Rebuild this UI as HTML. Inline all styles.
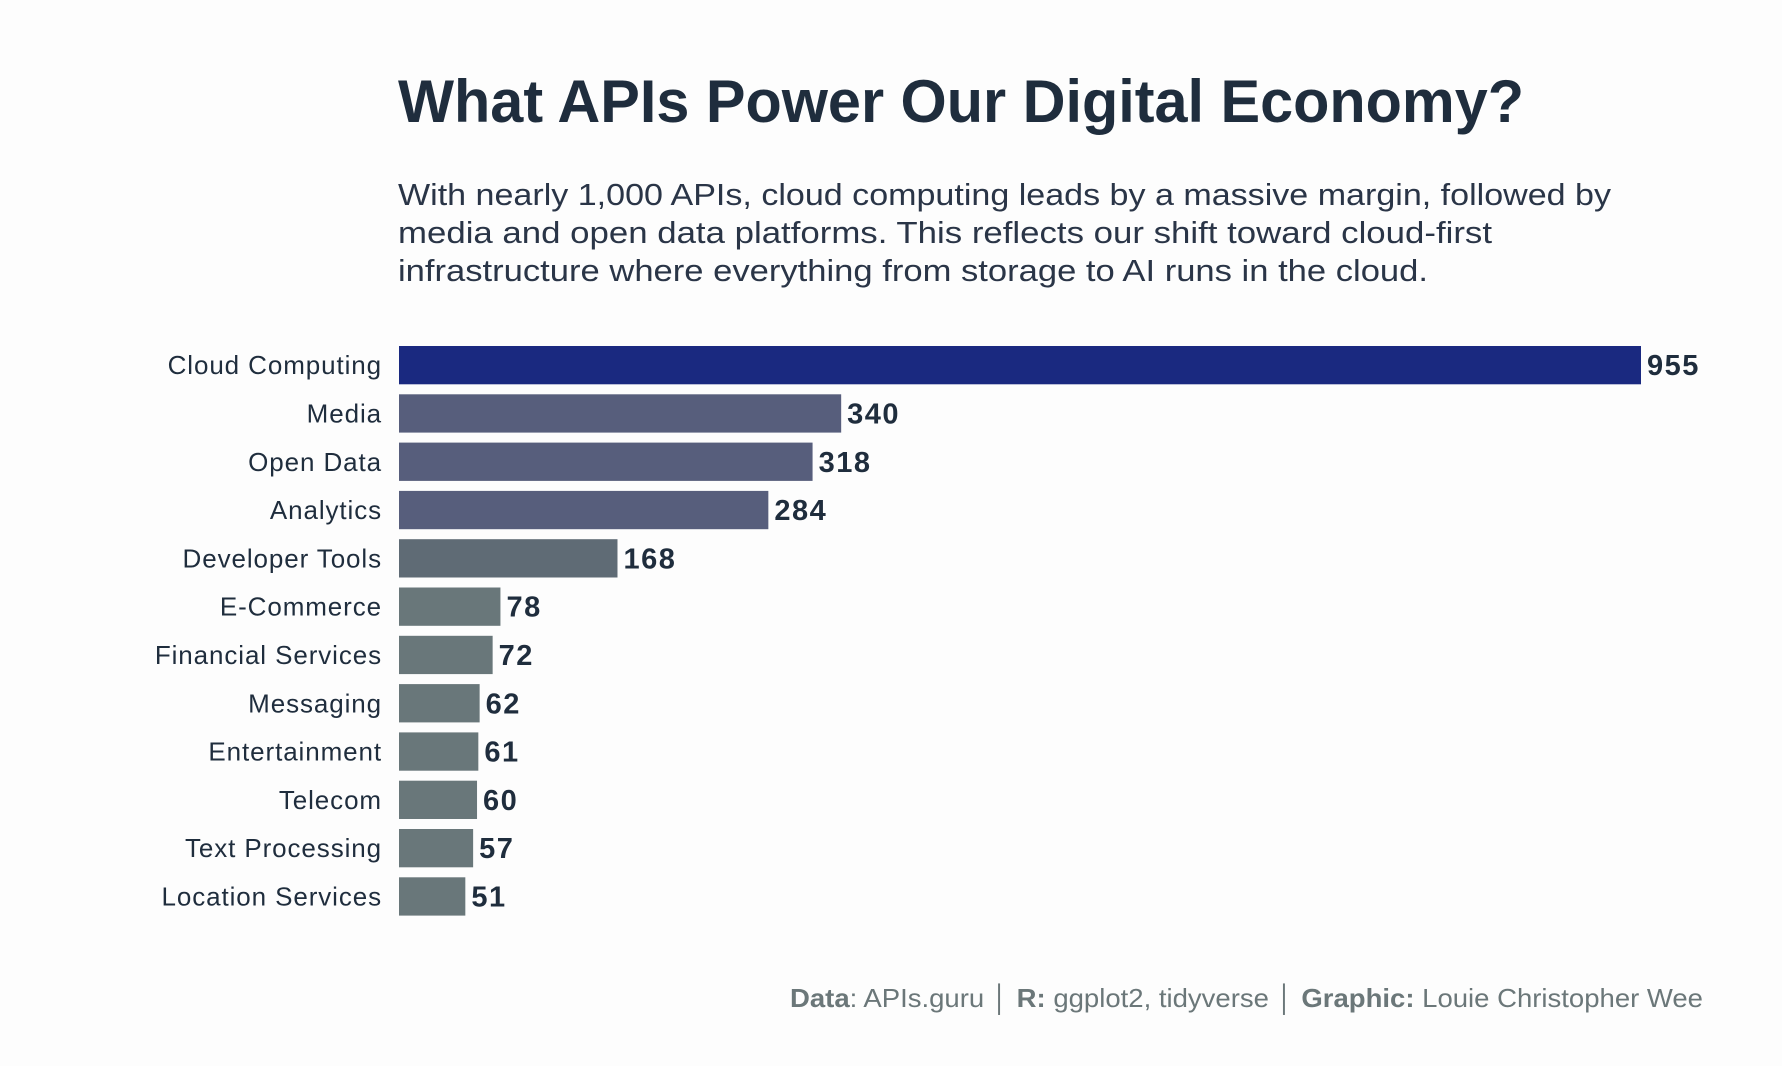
<!DOCTYPE html>
<html><head><meta charset="utf-8"><style>
html,body{margin:0;padding:0;background:#fdfdfd;}
svg{display:block;font-family:"Liberation Sans",sans-serif;}
</style></head><body>
<svg id="chart" width="1782" height="1066" viewBox="0 0 1782 1066">
<rect width="1782" height="1066" fill="#fdfdfd"/>
<text x="398" y="122" font-size="60" font-weight="bold" fill="#1f2d3d" textLength="1126" lengthAdjust="spacingAndGlyphs">What APIs Power Our Digital Economy?</text>
<g fill="#2a3547" font-size="31">
<text x="398" y="205" textLength="1213" lengthAdjust="spacingAndGlyphs">With nearly 1,000 APIs, cloud computing leads by a massive margin, followed by</text>
<text x="398" y="243" textLength="1094" lengthAdjust="spacingAndGlyphs">media and open data platforms. This reflects our shift toward cloud-first</text>
<text x="398" y="281" textLength="1030" lengthAdjust="spacingAndGlyphs">infrastructure where everything from storage to AI runs in the cloud.</text>
</g>
<g id="bars"></g>
<text x="1703" y="1007" text-anchor="end" font-size="26" fill="#6b7779" textLength="913" lengthAdjust="spacingAndGlyphs"><tspan font-weight="bold">Data</tspan>: APIs.guru │ <tspan font-weight="bold">R:</tspan> ggplot2, tidyverse │ <tspan font-weight="bold">Graphic:</tspan> Louie Christopher Wee</text>
</svg>
<script>
const categories = ["Cloud Computing","Media","Open Data","Analytics","Developer Tools","E-Commerce","Financial Services","Messaging","Entertainment","Telecom","Text Processing","Location Services"];
const values = [955,340,318,284,168,78,72,62,61,60,57,51];
const colors = ["#1a2980","#575e7c","#575e7c","#575e7c","#5f6b75","#69777a","#69777a","#69777a","#69777a","#69777a","#69777a","#69777a"];
const x0 = 399, pxPer = (1641-399)/955;
const xScale = v => x0 + v*pxPer;
const yTop = 346, pitch = 48.3, bh = 38.3;
const yScale = i => yTop + i*pitch;
const g = document.getElementById('bars');
const NS = "http://www.w3.org/2000/svg";
categories.forEach((c,i)=>{
  const y = yScale(i);
  const r = document.createElementNS(NS,'rect');
  r.setAttribute('x',x0); r.setAttribute('y',y);
  r.setAttribute('width',xScale(values[i])-x0); r.setAttribute('height',bh);
  r.setAttribute('fill',colors[i]);
  
  
  g.appendChild(r);
  const l = document.createElementNS(NS,'text');
  l.setAttribute('x',382); l.setAttribute('y',y+bh/2+9);
  l.setAttribute('text-anchor','end'); l.setAttribute('font-size','26'); l.setAttribute('letter-spacing','0.9'); l.setAttribute('fill','#1f2d3d');
  l.textContent = c;
  
  
  g.appendChild(l);
  const v = document.createElementNS(NS,'text');
  v.setAttribute('x',xScale(values[i])+6); v.setAttribute('y',y+bh/2+10);
  v.setAttribute('font-size','29'); v.setAttribute('font-weight','bold'); v.setAttribute('letter-spacing','1.5'); v.setAttribute('fill','#1f2d3d');
  v.textContent = values[i];
  
  
  g.appendChild(v);
});
</script>
</body></html>
